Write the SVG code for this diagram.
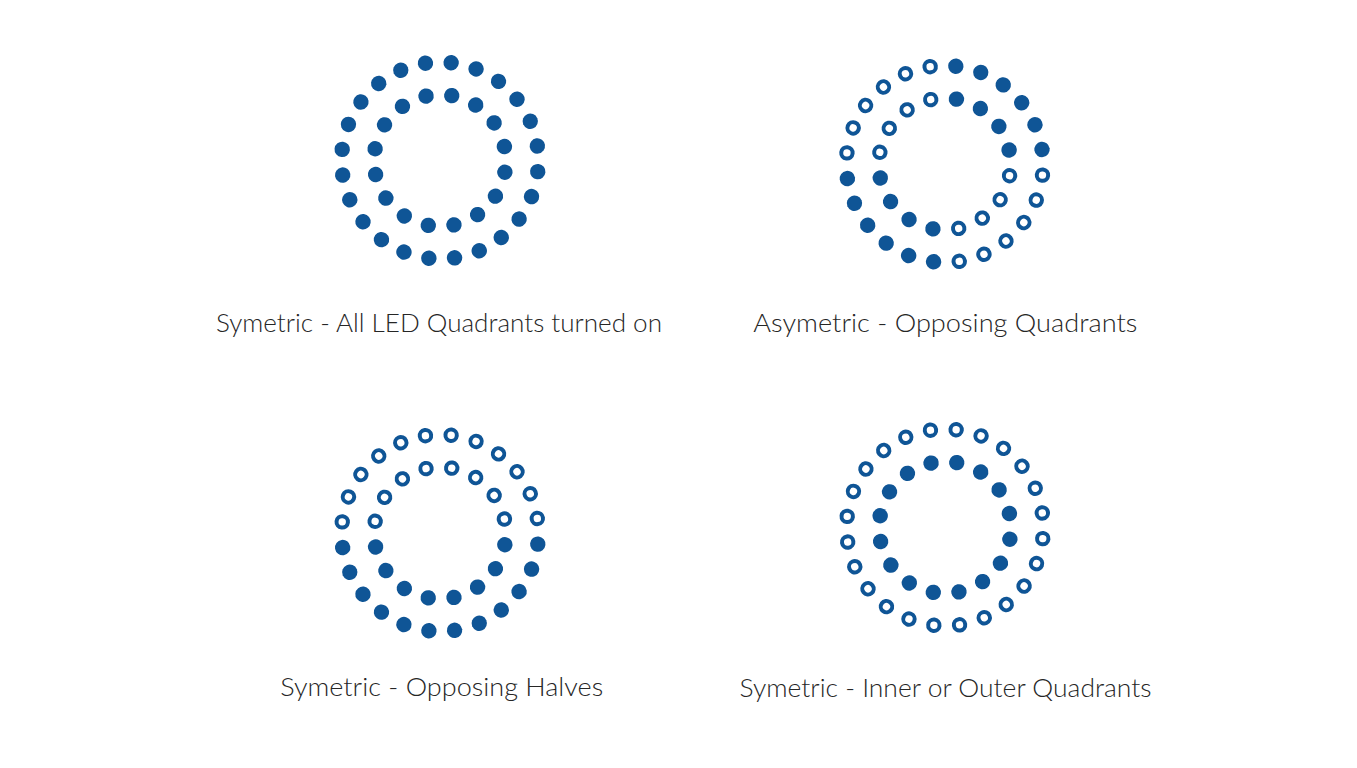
<svg xmlns="http://www.w3.org/2000/svg" xmlns:xlink="http://www.w3.org/1999/xlink" width="1357" height="768" viewBox="0 0 1357 768">
<style>
.f{fill:#0f5596}
.h{fill:none;stroke:#0f5596;stroke-width:4}
.lbl{font-family:Lato,"Liberation Sans",sans-serif;font-size:25px;font-weight:300;fill:#262626;text-anchor:middle}
</style>
<defs>
<circle id="of" class="f" cx="0" cy="-98.4" r="7.7"/>
<circle id="oh" class="h" cx="0" cy="-98.4" r="5.7"/>
<circle id="if" class="f" cx="0" cy="-65.9" r="7.7"/>
<circle id="ih" class="h" cx="0" cy="-65.9" r="5.7"/>
</defs>
<rect width="1357" height="768" fill="#ffffff"/>

<g id="ring-all-on" transform="translate(440,160.5) rotate(-1)">
<use href="#of" transform="rotate(7.5)"/><use href="#of" transform="rotate(22.5)"/><use href="#of" transform="rotate(37.5)"/><use href="#of" transform="rotate(52.5)"/><use href="#of" transform="rotate(67.5)"/><use href="#of" transform="rotate(82.5)"/>
<use href="#of" transform="rotate(97.5)"/><use href="#of" transform="rotate(112.5)"/><use href="#of" transform="rotate(127.5)"/><use href="#of" transform="rotate(142.5)"/><use href="#of" transform="rotate(157.5)"/><use href="#of" transform="rotate(172.5)"/>
<use href="#of" transform="rotate(187.5)"/><use href="#of" transform="rotate(202.5)"/><use href="#of" transform="rotate(217.5)"/><use href="#of" transform="rotate(232.5)"/><use href="#of" transform="rotate(247.5)"/><use href="#of" transform="rotate(262.5)"/>
<use href="#of" transform="rotate(277.5)"/><use href="#of" transform="rotate(292.5)"/><use href="#of" transform="rotate(307.5)"/><use href="#of" transform="rotate(322.5)"/><use href="#of" transform="rotate(337.5)"/><use href="#of" transform="rotate(352.5)"/>
<use href="#if" transform="rotate(11.25)"/><use href="#if" transform="rotate(33.75)"/><use href="#if" transform="rotate(56.25)"/><use href="#if" transform="rotate(78.75)"/>
<use href="#if" transform="rotate(101.25)"/><use href="#if" transform="rotate(123.75)"/><use href="#if" transform="rotate(146.25)"/><use href="#if" transform="rotate(168.75)"/>
<use href="#if" transform="rotate(191.25)"/><use href="#if" transform="rotate(213.75)"/><use href="#if" transform="rotate(236.25)"/><use href="#if" transform="rotate(258.75)"/>
<use href="#if" transform="rotate(281.25)"/><use href="#if" transform="rotate(303.75)"/><use href="#if" transform="rotate(326.25)"/><use href="#if" transform="rotate(348.75)"/>
</g>

<g id="ring-opposing-quadrants" transform="translate(944.7,164) rotate(-1)">
<use href="#of" transform="rotate(7.5)"/><use href="#of" transform="rotate(22.5)"/><use href="#of" transform="rotate(37.5)"/><use href="#of" transform="rotate(52.5)"/><use href="#of" transform="rotate(67.5)"/><use href="#of" transform="rotate(82.5)"/>
<use href="#oh" transform="rotate(97.5)"/><use href="#oh" transform="rotate(112.5)"/><use href="#oh" transform="rotate(127.5)"/><use href="#oh" transform="rotate(142.5)"/><use href="#oh" transform="rotate(157.5)"/><use href="#oh" transform="rotate(172.5)"/>
<use href="#of" transform="rotate(187.5)"/><use href="#of" transform="rotate(202.5)"/><use href="#of" transform="rotate(217.5)"/><use href="#of" transform="rotate(232.5)"/><use href="#of" transform="rotate(247.5)"/><use href="#of" transform="rotate(262.5)"/>
<use href="#oh" transform="rotate(277.5)"/><use href="#oh" transform="rotate(292.5)"/><use href="#oh" transform="rotate(307.5)"/><use href="#oh" transform="rotate(322.5)"/><use href="#oh" transform="rotate(337.5)"/><use href="#oh" transform="rotate(352.5)"/>
<use href="#if" transform="rotate(11.25)"/><use href="#if" transform="rotate(33.75)"/><use href="#if" transform="rotate(56.25)"/><use href="#if" transform="rotate(78.75)"/>
<use href="#ih" transform="rotate(101.25)"/><use href="#ih" transform="rotate(123.75)"/><use href="#ih" transform="rotate(146.25)"/><use href="#ih" transform="rotate(168.75)"/>
<use href="#if" transform="rotate(191.25)"/><use href="#if" transform="rotate(213.75)"/><use href="#if" transform="rotate(236.25)"/><use href="#if" transform="rotate(258.75)"/>
<use href="#ih" transform="rotate(281.25)"/><use href="#ih" transform="rotate(303.75)"/><use href="#ih" transform="rotate(326.25)"/><use href="#ih" transform="rotate(348.75)"/>
</g>

<g id="ring-opposing-halves" transform="translate(440,533) rotate(-1)">
<use href="#oh" transform="rotate(7.5)"/><use href="#oh" transform="rotate(22.5)"/><use href="#oh" transform="rotate(37.5)"/><use href="#oh" transform="rotate(52.5)"/><use href="#oh" transform="rotate(67.5)"/><use href="#oh" transform="rotate(82.5)"/>
<use href="#of" transform="rotate(97.5)"/><use href="#of" transform="rotate(112.5)"/><use href="#of" transform="rotate(127.5)"/><use href="#of" transform="rotate(142.5)"/><use href="#of" transform="rotate(157.5)"/><use href="#of" transform="rotate(172.5)"/>
<use href="#of" transform="rotate(187.5)"/><use href="#of" transform="rotate(202.5)"/><use href="#of" transform="rotate(217.5)"/><use href="#of" transform="rotate(232.5)"/><use href="#of" transform="rotate(247.5)"/><use href="#of" transform="rotate(262.5)"/>
<use href="#oh" transform="rotate(277.5)"/><use href="#oh" transform="rotate(292.5)"/><use href="#oh" transform="rotate(307.5)"/><use href="#oh" transform="rotate(322.5)"/><use href="#oh" transform="rotate(337.5)"/><use href="#oh" transform="rotate(352.5)"/>
<use href="#ih" transform="rotate(11.25)"/><use href="#ih" transform="rotate(33.75)"/><use href="#ih" transform="rotate(56.25)"/><use href="#ih" transform="rotate(78.75)"/>
<use href="#if" transform="rotate(101.25)"/><use href="#if" transform="rotate(123.75)"/><use href="#if" transform="rotate(146.25)"/><use href="#if" transform="rotate(168.75)"/>
<use href="#if" transform="rotate(191.25)"/><use href="#if" transform="rotate(213.75)"/><use href="#if" transform="rotate(236.25)"/><use href="#if" transform="rotate(258.75)"/>
<use href="#ih" transform="rotate(281.25)"/><use href="#ih" transform="rotate(303.75)"/><use href="#ih" transform="rotate(326.25)"/><use href="#ih" transform="rotate(348.75)"/>
</g>

<g id="ring-inner-outer" transform="translate(945,527.5) rotate(-1)">
<use href="#oh" transform="rotate(7.5)"/><use href="#oh" transform="rotate(22.5)"/><use href="#oh" transform="rotate(37.5)"/><use href="#oh" transform="rotate(52.5)"/><use href="#oh" transform="rotate(67.5)"/><use href="#oh" transform="rotate(82.5)"/>
<use href="#oh" transform="rotate(97.5)"/><use href="#oh" transform="rotate(112.5)"/><use href="#oh" transform="rotate(127.5)"/><use href="#oh" transform="rotate(142.5)"/><use href="#oh" transform="rotate(157.5)"/><use href="#oh" transform="rotate(172.5)"/>
<use href="#oh" transform="rotate(187.5)"/><use href="#oh" transform="rotate(202.5)"/><use href="#oh" transform="rotate(217.5)"/><use href="#oh" transform="rotate(232.5)"/><use href="#oh" transform="rotate(247.5)"/><use href="#oh" transform="rotate(262.5)"/>
<use href="#oh" transform="rotate(277.5)"/><use href="#oh" transform="rotate(292.5)"/><use href="#oh" transform="rotate(307.5)"/><use href="#oh" transform="rotate(322.5)"/><use href="#oh" transform="rotate(337.5)"/><use href="#oh" transform="rotate(352.5)"/>
<use href="#if" transform="rotate(11.25)"/><use href="#if" transform="rotate(33.75)"/><use href="#if" transform="rotate(56.25)"/><use href="#if" transform="rotate(78.75)"/>
<use href="#if" transform="rotate(101.25)"/><use href="#if" transform="rotate(123.75)"/><use href="#if" transform="rotate(146.25)"/><use href="#if" transform="rotate(168.75)"/>
<use href="#if" transform="rotate(191.25)"/><use href="#if" transform="rotate(213.75)"/><use href="#if" transform="rotate(236.25)"/><use href="#if" transform="rotate(258.75)"/>
<use href="#if" transform="rotate(281.25)"/><use href="#if" transform="rotate(303.75)"/><use href="#if" transform="rotate(326.25)"/><use href="#if" transform="rotate(348.75)"/>
</g>

<g id="labels">
<text class="lbl" x="439" y="332" textLength="446" lengthAdjust="spacingAndGlyphs">Symetric - All LED Quadrants turned on</text>
<text class="lbl" x="945.3" y="332" textLength="384" lengthAdjust="spacingAndGlyphs">Asymetric - Opposing Quadrants</text>
<text class="lbl" x="441.7" y="696" textLength="323" lengthAdjust="spacingAndGlyphs">Symetric - Opposing Halves</text>
<text class="lbl" x="945.5" y="696.5" textLength="412" lengthAdjust="spacingAndGlyphs">Symetric - Inner or Outer Quadrants</text>
</g>
</svg>
